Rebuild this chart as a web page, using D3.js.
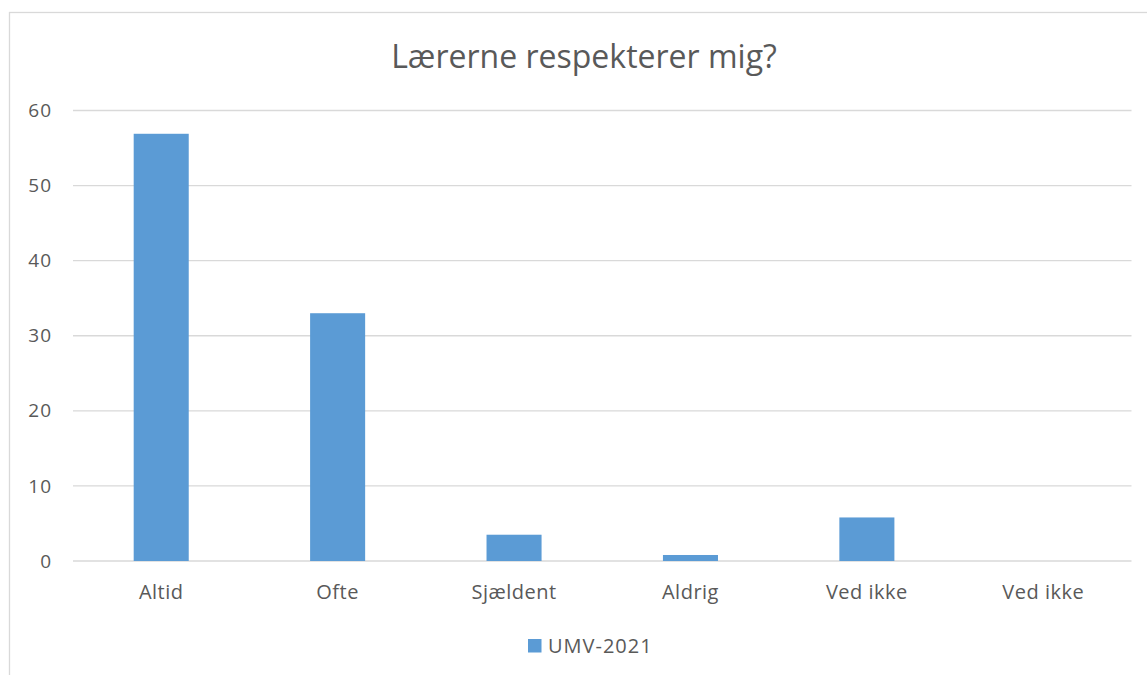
<!DOCTYPE html>
<html>
<head>
<meta charset="utf-8">
<script src="https://cdn.jsdelivr.net/npm/d3@7"></script>
<style>
  html, body { margin: 0; padding: 0; background: #fff; }
  svg { display: block; }
  text { font-family: "Open Sans", "Noto Sans", sans-serif; fill: #595959; }
</style>
</head>
<body>
<svg id="chart" width="1147" height="675"></svg>
<script>
const categories = ["Altid", "Ofte", "Sjældent", "Aldrig", "Ved ikke", "Ved ikke "];
const categoryLabels = ["Altid", "Ofte", "Sjældent", "Aldrig", "Ved ikke", "Ved ikke"];
const values = [56.9, 33.0, 3.5, 0.8, 5.8, 0];
const yTicks = [0, 10, 20, 30, 40, 50, 60];
const seriesName = "UMV-2021";
const titleText = "Lærerne respekterer mig?";

const W = 1147, H = 675;
const plot = { left: 73, right: 1131.5, top: 110.5, bottom: 561 };
const barColor = "#5b9bd5";

const svg = d3.select("#chart");

// outer chart frame
svg.append("rect")
  .attr("x", 9.5).attr("y", 12.5)
  .attr("width", W + 20).attr("height", H + 20)
  .attr("fill", "#fff").attr("stroke", "#d9d9d9").attr("stroke-width", 1.3);

const x = d3.scaleBand().domain(categories).range([plot.left, plot.right]).padding(0);
const y = d3.scaleLinear().domain([0, 60]).range([plot.bottom, plot.top]);

// gridlines
svg.append("g").selectAll("line").data(yTicks).join("line")
  .attr("x1", plot.left).attr("x2", plot.right)
  .attr("y1", d => y(d)).attr("y2", d => y(d))
  .attr("stroke", "#d9d9d9").attr("stroke-width", 1.3);

// y axis labels
const yAxis = d3.axisLeft(y).tickValues(yTicks).tickSize(0).tickPadding(0);
const yg = svg.append("g").attr("transform", `translate(${plot.left - 21},0)`).call(yAxis);
yg.select(".domain").remove();
yg.selectAll("text").attr("font-size", 19).attr("fill", "#595959")
  .attr("letter-spacing", 1)
  .style("font-family", "'Open Sans', sans-serif");

// bars
const barW = x.bandwidth() * 0.312;
svg.append("g").selectAll("rect").data(values).join("rect")
  .attr("x", (d, i) => x(categories[i]) + (x.bandwidth() - barW) / 2)
  .attr("width", barW)
  .attr("y", d => y(d))
  .attr("height", d => y(0) - y(d))
  .attr("fill", barColor);

// x axis labels
const xAxis = d3.axisBottom(x).tickSize(0).tickPadding(0)
  .tickFormat((d, i) => categoryLabels[i]);
const xg = svg.append("g").attr("transform", `translate(0,599)`).call(xAxis);
xg.select(".domain").remove();
xg.selectAll("text").attr("font-size", 20).attr("fill", "#595959")
  .attr("dy", 0).attr("y", 0)
  .attr("letter-spacing", 0.5)
  .style("font-family", "'Open Sans', sans-serif");

// title
svg.append("text")
  .attr("x", 584).attr("y", 67.5)
  .attr("text-anchor", "middle")
  .attr("font-size", 32)
  .text(titleText);

// legend
const legend = svg.append("g");
legend.append("rect")
  .attr("x", 528).attr("y", 639).attr("width", 13.5).attr("height", 13.5)
  .attr("fill", barColor);
legend.append("text")
  .attr("x", 548).attr("y", 653)
  .attr("font-size", 20)
  .attr("letter-spacing", 1)
  .text(seriesName);
</script>
</body>
</html>
